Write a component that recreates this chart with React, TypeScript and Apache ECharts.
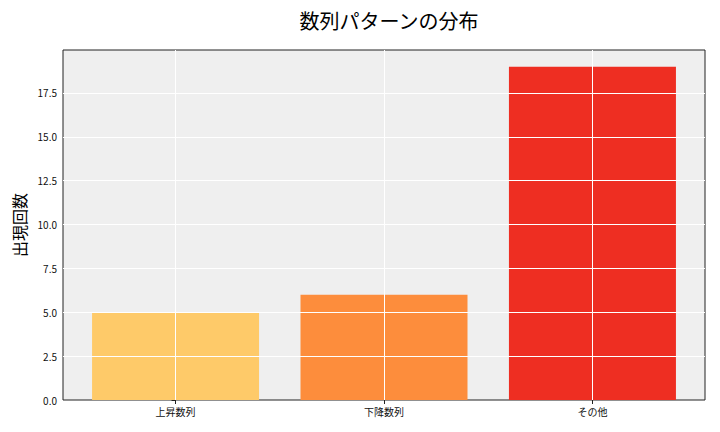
import React, { useEffect, useRef } from 'react';
import * as echarts from 'echarts';

const categories = ['上昇数列', '下降数列', 'その他'];
const counts = [5, 6, 19];
const barColors = ['#FECA69', '#FD8D3C', '#EE2E22'];
const yTicks = [0, 2.5, 5, 7.5, 10, 12.5, 15, 17.5];

const FONT = '"Noto Sans CJK JP", "Noto Sans", sans-serif';

const App: React.FC = () => {
    const chartRef = useRef<HTMLDivElement>(null);

    useEffect(() => {
        if (!chartRef.current) return;
        const chart = echarts.init(chartRef.current, undefined, { renderer: 'svg' });

        const positions = categories.map((_, i) => i);

        const option: echarts.EChartsOption = {
            animation: false,
            textStyle: { fontFamily: FONT },
            title: {
                text: '数列パターンの分布',
                left: 384,
                textAlign: 'center',
                top: 5,
                textStyle: { fontSize: 20, fontWeight: 'normal', color: '#000', fontFamily: FONT },
            },
            grid: {
                left: 63,
                right: 15,
                top: 50,
                bottom: 32,
                show: true,
                backgroundColor: '#EFEFEF',
                borderColor: '#222',
                borderWidth: 1,
            },
            xAxis: {
                type: 'value',
                min: -0.54,
                max: 2.54,
                axisLine: { show: false },
                splitLine: { show: false },
                axisTick: {
                    show: true,
                    customValues: positions,
                    length: 4,
                    lineStyle: { color: '#222' },
                },
                axisLabel: {
                    customValues: positions,
                    formatter: (v: number) => categories[Math.round(v)] ?? '',
                    fontSize: 10,
                    color: '#111',
                    margin: 6,
                    fontFamily: FONT,
                },
            },
            yAxis: {
                type: 'value',
                min: 0,
                max: 19.95,
                name: '出現回数',
                nameLocation: 'middle',
                nameGap: 29,
                nameTextStyle: { fontSize: 16, color: '#000', fontFamily: FONT },
                axisLine: { show: false },
                axisTick: {
                    show: true,
                    customValues: yTicks,
                    length: 4,
                    lineStyle: { color: '#222' },
                },
                axisLabel: {
                    customValues: yTicks,
                    formatter: (v: number) => v.toFixed(1),
                    fontSize: 10,
                    color: '#111',
                    margin: 6,
                    fontFamily: FONT,
                },
                splitLine: { show: false },
            },
            series: [
                {
                    type: 'bar',
                    barWidth: 167,
                    z: 2,
                    data: counts.map((c, i) => ({
                        value: [i, c],
                        itemStyle: { color: barColors[i] },
                    })),
                    markLine: {
                        silent: true,
                        symbol: 'none',
                        z: 5,
                        label: { show: false },
                        lineStyle: { color: '#FFFFFF', width: 1, type: 'solid' },
                        emphasis: { disabled: true },
                        data: [
                            ...positions.map((p) => ({ xAxis: p })),
                            ...yTicks.filter((t) => t > 0).map((t) => ({ yAxis: t })),
                        ],
                    },
                },
            ],
        };

        chart.setOption(option);

        return () => {
            chart.dispose();
        };
    }, []);

    return (
        <div
            ref={chartRef}
            style={{ position: 'absolute', left: 0, top: 0, width: 720, height: 432 }}
        />
    );
};

export default App;
